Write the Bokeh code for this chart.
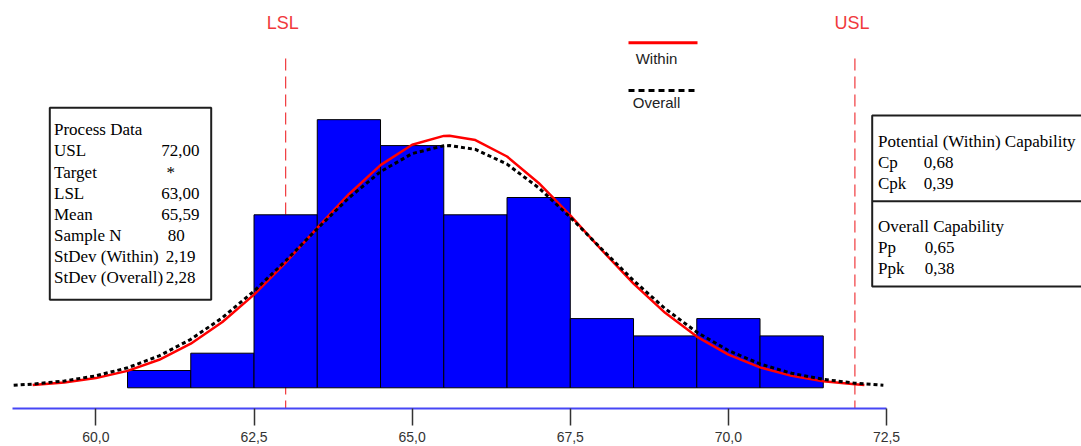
from bokeh.plotting import figure
from bokeh.models import Range1d, FixedTicker
from bokeh.core.properties import value
from bokeh.embed import file_html
from bokeh.resources import INLINE

# ---------------- data ----------------
bin_centers = [61, 62, 63, 64, 65, 66, 67, 68, 69, 70, 71]
bin_width = 1.0
counts = [1, 2, 10, 15.5, 14, 10, 11, 4, 3, 4, 3]

lsl = 63.0
usl = 72.0

within_x = [59.0, 59.5, 60.0, 60.5, 61.0, 61.5, 62.0, 62.5, 63.0, 63.5, 64.0, 64.5,
            65.0, 65.5, 65.59, 66.0, 66.5, 67.0, 67.5, 68.0, 68.5, 69.0, 69.5, 70.0,
            70.5, 71.0, 71.5, 72.0, 72.15]
within_y = [0.158, 0.305, 0.560, 0.978, 1.620, 2.547, 3.801, 5.384, 7.240, 9.240, 11.19, 12.87,
            14.05, 14.56, 14.57, 14.32, 13.37, 11.84, 9.962, 7.952, 6.026, 4.335, 2.959, 1.918,
            1.180, 0.689, 0.382, 0.201, 0.165]

overall_x = [58.7, 59.0, 59.5, 60.0, 60.5, 61.0, 61.5, 62.0, 62.5, 63.0, 63.5, 64.0, 64.5,
             65.0, 65.5, 65.59, 66.0, 66.5, 67.0, 67.5, 68.0, 68.5, 69.0, 69.5, 70.0,
             70.5, 71.0, 71.5, 72.0, 72.45]
overall_y = [0.146, 0.215, 0.395, 0.693, 1.158, 1.845, 2.801, 4.053, 5.589, 7.344, 9.197, 10.98, 12.49,
             13.54, 13.99, 14.0, 13.78, 12.93, 11.56, 9.857, 8.008, 6.200, 4.575, 3.217, 2.156,
             1.377, 0.839, 0.487, 0.269, 0.152]

tick_values = [60.0, 62.5, 65.0, 67.5, 70.0, 72.5]
tick_labels = ["60,0", "62,5", "65,0", "67,5", "70,0", "72,5"]

process_labels = ["Process Data", "USL", "Target", "LSL", "Mean", "Sample N",
                  "StDev (Within)", "StDev (Overall)"]
process_values = ["", "72,00", "*", "63,00", "65,59", "80", "2,19", "2,28"]

within_labels = ["Potential (Within) Capability", "Cp", "Cpk"]
within_values = ["", "0,68", "0,39"]
overall_labels = ["Overall Capability", "Pp", "Ppk"]
overall_values = ["", "0,65", "0,38"]

# ---------------- layout helpers (picture pixel -> data) ----------------
K = 63.25      # px per unit on x
PX0 = 95.4     # pixel x of value 60
BASE = 387.3   # pixel y of count 0
KY = 17.3      # px per count
AXIS_Y = 408   # pixel y of the axis line


def px2x(px):
    return 60 + (px - PX0) / K


def px2y(py):
    return (BASE - py) / KY


W, H = 1081, 446
p = figure(width=W, height=H,
           x_range=Range1d(px2x(0), px2x(W)),
           y_range=Range1d(px2y(AXIS_Y), px2y(0)),
           output_backend="svg", toolbar_location=None,
           y_axis_location=None,
           min_border_left=0, min_border_right=0, min_border_top=0,
           min_border_bottom=H - AXIS_Y)
p.outline_line_color = None
p.xgrid.visible = False
p.ygrid.visible = False
p.background_fill_color = "white"
p.border_fill_color = "white"

# axis
ax = p.xaxis[0]
ax.ticker = FixedTicker(ticks=tick_values)
ax.major_label_overrides = {v: l for v, l in zip(tick_values, tick_labels)}
ax.bounds = (px2x(12.4), 72.5)
ax.axis_line_color = "#4646f5"
ax.axis_line_width = 2
ax.major_tick_line_color = "#333333"
ax.major_tick_line_width = 1.5
ax.major_tick_out = 17
ax.major_tick_in = 0
ax.minor_tick_line_color = None
ax.major_label_text_font = "Liberation Sans"
ax.major_label_text_font_size = "14px"
ax.major_label_text_color = "#333333"
ax.major_label_standoff = 6

spec_red = "#f0383c"
# spec lines (behind bars)
p.segment(x0=[lsl, usl], x1=[lsl, usl], y0=px2y(58), y1=px2y(AXIS_Y),
          line_color=spec_red, line_width=1.2, line_dash="12 6")
p.text(x=[lsl, usl], y=px2y(22.5), text=["LSL", "USL"], x_offset=-3,
       text_align="center", text_baseline="middle",
       text_font=value("Liberation Sans"), text_font_size="18px", text_color=spec_red)

# histogram
p.vbar(x=bin_centers, width=bin_width, top=counts, bottom=0,
       fill_color="#0000ff", line_color="black", line_width=1)

# curves
p.line(within_x, within_y, line_color="#ff0000", line_width=2.5, line_join="round")
p.line(overall_x, overall_y, line_color="black", line_width=3, line_dash="4 3")

# legend (manual, label under sample line)
p.segment(x0=px2x(628), x1=px2x(697), y0=px2y(42.3), y1=px2y(42.3),
          line_color="#ff0000", line_width=3)
p.segment(x0=px2x(628), x1=px2x(697), y0=px2y(90), y1=px2y(90),
          line_color="black", line_width=3, line_dash="6 4")
p.text(x=px2x(656), y=[px2y(57.5), px2y(102)], text=["Within", "Overall"],
       text_align="center", text_baseline="middle",
       text_font=value("Liberation Sans"), text_font_size="15px", text_color="#222222")

serif = value("Liberation Serif")
fs = "17px"

# left box: Process Data
p.quad(left=px2x(49.3), right=px2x(210.7), top=px2y(107.3), bottom=px2y(299.3),
       fill_color="white", line_color="#1e1e1e", line_width=2)
row_y = [129.3 + 21.17 * i for i in range(len(process_labels))]
p.text(x=px2x(53.5), y=[px2y(v) for v in row_y], text=process_labels,
       text_align="left", text_baseline="alphabetic",
       text_font=serif, text_font_size=fs, text_color="black")
val_px = [160.7, 160.7, 166.0, 160.7, 160.7, 167.3, 165.3, 165.3]
p.text(x=[px2x(v) for v in val_px], y=[px2y(v) for v in row_y], text=process_values,
       text_align="left", text_baseline="alphabetic",
       text_font=serif, text_font_size=fs, text_color="black")

# right box: capability
p.quad(left=px2x(871.7), right=px2x(1120), top=px2y(115), bottom=px2y(286),
       fill_color="white", line_color="#1e1e1e", line_width=2)
p.segment(x0=px2x(871.7), x1=px2x(1120), y0=px2y(200.7), y1=px2y(200.7),
          line_color="#1e1e1e", line_width=2)
cap_labels = within_labels + overall_labels
cap_values = within_values + overall_values
cap_y = [140.5, 161.5, 182.5, 226.0, 247.0, 268.0]
p.text(x=px2x(877.5), y=[px2y(v) for v in cap_y], text=cap_labels,
       text_align="left", text_baseline="alphabetic",
       text_font=serif, text_font_size=fs, text_color="black")
cap_val_px = [923.3, 923.3, 923.3, 924.3, 924.3, 924.3]
p.text(x=[px2x(v) for v in cap_val_px], y=[px2y(v) for v in cap_y], text=cap_values,
       text_align="left", text_baseline="alphabetic",
       text_font=serif, text_font_size=fs, text_color="black")

open("out.html", "w").write(file_html(p, INLINE))
